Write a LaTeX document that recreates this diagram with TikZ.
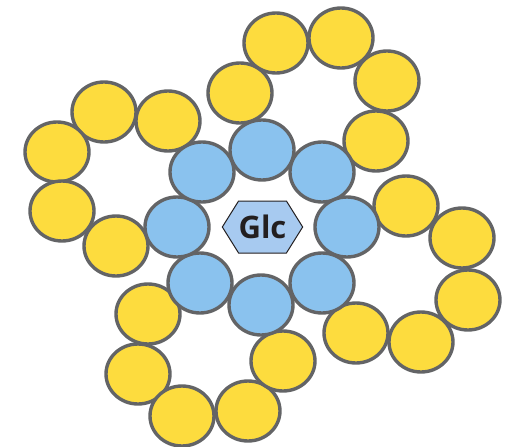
\documentclass[tikz,border=0pt]{standalone}
\usepackage{fontspec}
\setsansfont{Open Sans}
\usepackage{tikz}
\usetikzlibrary{shapes.geometric, shapes.symbols}

\definecolor{rimgray}{HTML}{636466}
\definecolor{sugaryellow}{HTML}{FDDC3E}
\definecolor{ringblue}{HTML}{8AC2EE}
\definecolor{glcblue}{HTML}{A7CAF0}
\definecolor{glcink}{HTML}{231F20}

\begin{document}
\begin{tikzpicture}[
			x=1pt, y=-1pt,
			unit/.style={
				ellipse, draw=rimgray, line width=3.4pt,
				minimum width=64pt, minimum height=60pt, inner sep=0pt
			},
			arm/.style={unit, fill=sugaryellow},
			core/.style={unit, fill=ringblue},
			glc/.style={
				signal, signal to=west and east, signal pointer angle=116,
				draw=glcink, line width=1pt, fill=glcblue, inner sep=0pt,
				minimum width=75pt, minimum height=52pt,
				font=\sffamily\bfseries\fontsize{31}{31}\selectfont, text=glcink
			}
			]
			\useasboundingbox (0,0) rectangle (507,447);
			
			% upper arm
			\node[arm] (up1) at (240,93) {};
			\node[arm] (up2) at (276,43) {};
			\node[arm] (up3) at (341,38) {};
			\node[arm] (up4) at (387,81) {};
			\node[arm] (up5) at (376,141) {};
			
			% left arm
			\node[arm] (lf1) at (168,121) {};
			\node[arm] (lf2) at (104,112) {};
			\node[arm] (lf3) at (57,152) {};
			\node[arm] (lf4) at (62,211) {};
			\node[arm] (lf5) at (116,246) {};
			
			% right arm
			\node[arm] (rt1) at (406,206) {};
			\node[arm] (rt2) at (462,238) {};
			\node[arm] (rt3) at (468,300) {};
			\node[arm] (rt4) at (421,342) {};
			\node[arm] (rt5) at (356,333) {};
			
			% lower arm
			\node[arm] (dn1) at (148,314) {};
			\node[arm] (dn2) at (138,374) {};
			\node[arm] (dn3) at (182,416) {};
			\node[arm] (dn4) at (248,411) {};
			\node[arm] (dn5) at (283,361) {};
			
			% central ring
			\node[core] (r1) at (262,150) {};
			\node[core] (r2) at (322,172) {};
			\node[core] (r3) at (347,227) {};
			\node[core] (r4) at (322,283) {};
			\node[core] (r5) at (261,305) {};
			\node[core] (r6) at (200,283) {};
			\node[core] (r7) at (177,227) {};
			\node[core] (r8) at (202,172) {};
			
			\node[glc] (glc) at (262.5,227) {Glc};
		\end{tikzpicture}
\end{document}
